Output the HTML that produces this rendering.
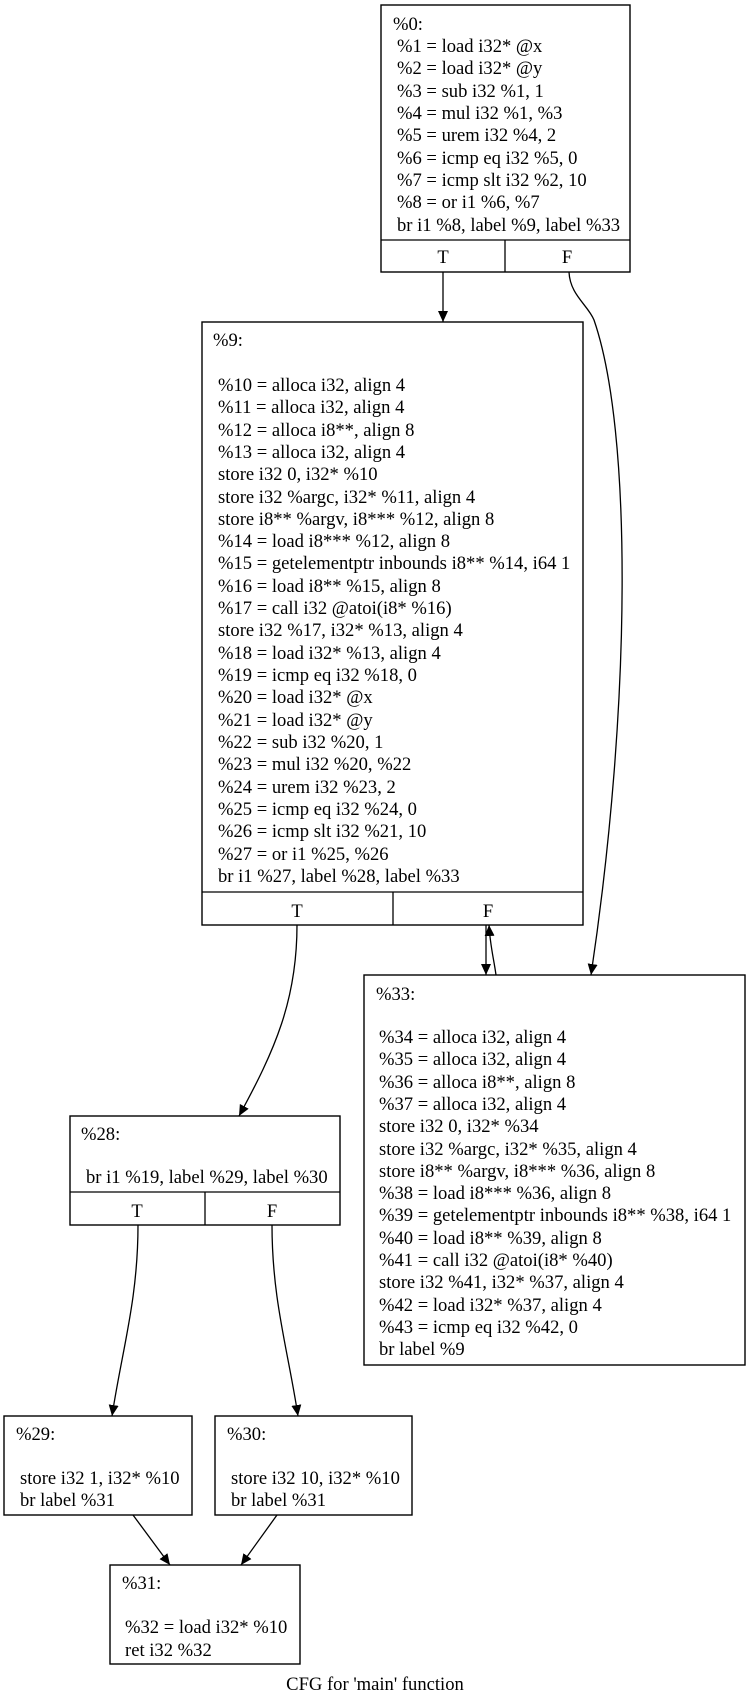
<!DOCTYPE html>
<html><head><meta charset="utf-8"><style>
html,body{margin:0;padding:0;background:#fff}
svg{display:block}
text{font-family:"Liberation Serif",serif;font-size:18.6px;fill:#000}
.b{fill:#fff;stroke:#000;stroke-width:1.4}
.l{fill:none;stroke:#000;stroke-width:1.3}
</style></head><body>
<svg width="747" height="1705" viewBox="0 0 747 1705" xmlns="http://www.w3.org/2000/svg">
<defs><marker id="a" markerUnits="userSpaceOnUse" markerWidth="12" markerHeight="10" refX="11" refY="5" orient="auto"><path d="M0,0 L11,5 L0,10 z" fill="#000"/></marker></defs>

<!-- %0 -->
<rect class="b" x="381" y="5" width="249" height="267"/>
<line class="l" x1="381" y1="240" x2="630" y2="240"/>
<line class="l" x1="505" y1="240" x2="505" y2="272"/>
<text x="393" y="30">%0:</text>
<text x="397" y="52">%1 = load i32* @x</text>
<text x="397" y="74">%2 = load i32* @y</text>
<text x="397" y="97">%3 = sub i32 %1, 1</text>
<text x="397" y="119">%4 = mul i32 %1, %3</text>
<text x="397" y="141">%5 = urem i32 %4, 2</text>
<text x="397" y="164">%6 = icmp eq i32 %5, 0</text>
<text x="397" y="186">%7 = icmp slt i32 %2, 10</text>
<text x="397" y="208">%8 = or i1 %6, %7</text>
<text x="397" y="231">br i1 %8, label %9, label %33</text>
<text x="443" y="263" text-anchor="middle">T</text>
<text x="567" y="263" text-anchor="middle">F</text>

<!-- %9 -->
<rect class="b" x="202" y="322" width="381" height="603"/>
<line class="l" x1="202" y1="892" x2="583" y2="892"/>
<line class="l" x1="393" y1="892" x2="393" y2="925"/>
<text x="213" y="346">%9:</text>
<g>
<text x="218" y="391">%10 = alloca i32, align 4</text>
<text x="218" y="413">%11 = alloca i32, align 4</text>
<text x="218" y="436">%12 = alloca i8**, align 8</text>
<text x="218" y="458">%13 = alloca i32, align 4</text>
<text x="218" y="480">store i32 0, i32* %10</text>
<text x="218" y="503">store i32 %argc, i32* %11, align 4</text>
<text x="218" y="525">store i8** %argv, i8*** %12, align 8</text>
<text x="218" y="547">%14 = load i8*** %12, align 8</text>
<text x="218" y="569">%15 = getelementptr inbounds i8** %14, i64 1</text>
<text x="218" y="592">%16 = load i8** %15, align 8</text>
<text x="218" y="614">%17 = call i32 @atoi(i8* %16)</text>
<text x="218" y="636">store i32 %17, i32* %13, align 4</text>
<text x="218" y="659">%18 = load i32* %13, align 4</text>
<text x="218" y="681">%19 = icmp eq i32 %18, 0</text>
<text x="218" y="703">%20 = load i32* @x</text>
<text x="218" y="726">%21 = load i32* @y</text>
<text x="218" y="748">%22 = sub i32 %20, 1</text>
<text x="218" y="770">%23 = mul i32 %20, %22</text>
<text x="218" y="793">%24 = urem i32 %23, 2</text>
<text x="218" y="815">%25 = icmp eq i32 %24, 0</text>
<text x="218" y="837">%26 = icmp slt i32 %21, 10</text>
<text x="218" y="860">%27 = or i1 %25, %26</text>
<text x="218" y="882">br i1 %27, label %28, label %33</text>
</g>
<text x="297" y="917" text-anchor="middle">T</text>
<text x="488" y="917" text-anchor="middle">F</text>

<!-- %33 -->
<rect class="b" x="364" y="975" width="381" height="390"/>
<text x="376" y="1000">%33:</text>
<text x="379" y="1043">%34 = alloca i32, align 4</text>
<text x="379" y="1065">%35 = alloca i32, align 4</text>
<text x="379" y="1088">%36 = alloca i8**, align 8</text>
<text x="379" y="1110">%37 = alloca i32, align 4</text>
<text x="379" y="1132">store i32 0, i32* %34</text>
<text x="379" y="1155">store i32 %argc, i32* %35, align 4</text>
<text x="379" y="1177">store i8** %argv, i8*** %36, align 8</text>
<text x="379" y="1199">%38 = load i8*** %36, align 8</text>
<text x="379" y="1221">%39 = getelementptr inbounds i8** %38, i64 1</text>
<text x="379" y="1244">%40 = load i8** %39, align 8</text>
<text x="379" y="1266">%41 = call i32 @atoi(i8* %40)</text>
<text x="379" y="1288">store i32 %41, i32* %37, align 4</text>
<text x="379" y="1311">%42 = load i32* %37, align 4</text>
<text x="379" y="1333">%43 = icmp eq i32 %42, 0</text>
<text x="379" y="1355">br label %9</text>

<!-- %28 -->
<rect class="b" x="70" y="1116" width="270" height="109"/>
<line class="l" x1="70" y1="1192" x2="340" y2="1192"/>
<line class="l" x1="205" y1="1192" x2="205" y2="1225"/>
<text x="81" y="1140">%28:</text>
<text x="86" y="1183">br i1 %19, label %29, label %30</text>
<text x="137" y="1217" text-anchor="middle">T</text>
<text x="272" y="1217" text-anchor="middle">F</text>

<!-- %29 -->
<rect class="b" x="4" y="1416" width="188" height="99"/>
<text x="16" y="1440">%29:</text>
<text x="20" y="1484">store i32 1, i32* %10</text>
<text x="20" y="1506">br label %31</text>

<!-- %30 -->
<rect class="b" x="215" y="1416" width="197" height="99"/>
<text x="227" y="1440">%30:</text>
<text x="231" y="1484">store i32 10, i32* %10</text>
<text x="231" y="1506">br label %31</text>

<!-- %31 -->
<rect class="b" x="110" y="1565" width="190" height="99"/>
<text x="122" y="1589">%31:</text>
<text x="125" y="1633">%32 = load i32* %10</text>
<text x="125" y="1656">ret i32 %32</text>

<text x="375" y="1690" text-anchor="middle">CFG for 'main' function</text>

<!-- edges -->
<path class="l" marker-end="url(#a)" d="M443,272 L443,322"/>
<path class="l" marker-end="url(#a)" d="M569,272 C570,295 588,305 594,320 C632,430 632,700 591,975"/>
<path class="l" marker-end="url(#a)" d="M486,925 L486,975"/>
<path class="l" marker-end="url(#a)" d="M496,975 C494,960 490,945 489,925"/>
<path class="l" marker-end="url(#a)" d="M297,925 C297,1000 275,1050 239,1116"/>
<path class="l" marker-end="url(#a)" d="M138,1225 C138,1300 122,1350 112,1416"/>
<path class="l" marker-end="url(#a)" d="M272,1225 C272,1300 288,1350 298,1416"/>
<path class="l" marker-end="url(#a)" d="M133,1515 L170,1565"/>
<path class="l" marker-end="url(#a)" d="M277,1515 L241,1565"/>
</svg>
</body></html>
